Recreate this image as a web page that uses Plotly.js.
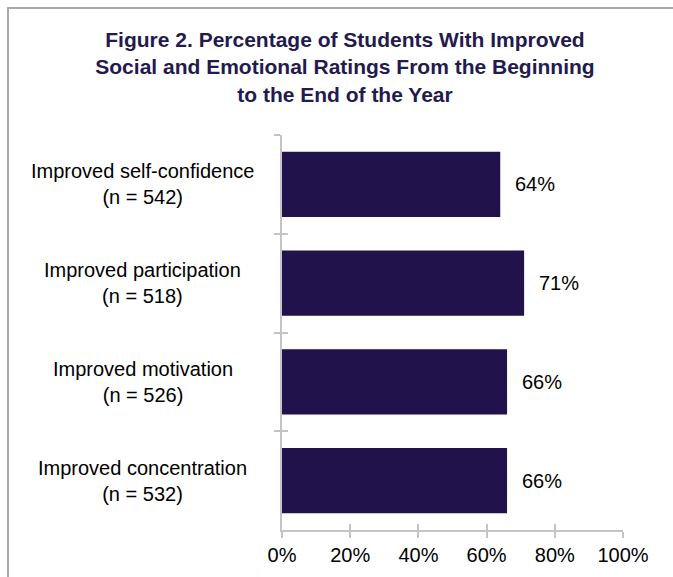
<!DOCTYPE html>
<html>
<head>
<meta charset="utf-8">
<script src="https://cdn.plot.ly/plotly-3.0.1.min.js"></script>
<style>
  html, body { margin: 0; padding: 0; background: #fff; overflow: hidden; }
  #wrap { position: relative; width: 673px; height: 577px; overflow: hidden; }
  #chart { width: 673px; height: 577px; }
  #frame { position: absolute; left: 7px; top: 7px; width: 680px; height: 590px;
           border-left: 2px solid #aaaaaa; border-top: 2px solid #aaaaaa; pointer-events: none; }
</style>
</head>
<body>
<div id="wrap">
  <div id="chart"></div>
  <div id="frame"></div>
</div>
<script>
const categories = ["Improved self-confidence", "Improved participation", "Improved motivation", "Improved concentration"];
const sampleSizes = ["n = 542", "n = 518", "n = 526", "n = 532"];
const values = [64, 71, 66, 66];
const xTicks = [0, 20, 40, 60, 80, 100];
const xTickLabels = ["0%", "20%", "40%", "60%", "80%", "100%"];
const titleText = "Figure 2. Percentage of Students With Improved<br>Social and Emotional Ratings From the Beginning<br>to the End of the Year";

const FONT = "Liberation Sans, Arial, sans-serif";
const BAR = "#22124b";
const AXIS = "#c4c4c4";

const traces = [
  {
    type: "bar", orientation: "h",
    x: values, y: categories,
    width: 0.66,
    marker: { color: BAR, line: { width: 0 } },
    hoverinfo: "skip", showlegend: false
  },
  {
    type: "scatter", mode: "markers",
    x: [0], y: [categories[0]],
    xaxis: "x2", yaxis: "y2",
    marker: { opacity: 0 }, hoverinfo: "skip", showlegend: false
  }
];

const annotations = [];
categories.forEach((c, i) => {
  annotations.push({
    xref: "paper", yref: "y", x: -0.408, y: c,
    text: c + "<br>(" + sampleSizes[i] + ")",
    showarrow: false, xanchor: "center", yanchor: "middle", align: "center",
    font: { family: FONT, size: 20, color: "#000" }
  });
  annotations.push({
    xref: "x", yref: "y", x: values[i], y: c,
    text: values[i] + "%",
    showarrow: false, xanchor: "left", yanchor: "middle", xshift: 13,
    font: { family: FONT, size: 20, color: "#000" }
  });
});

const commonX = { range: [0, 100], tickvals: xTicks, zeroline: false, showgrid: false, fixedrange: true };
const commonY = { type: "category", categoryorder: "array", categoryarray: categories,
                  range: [3.5, -0.5], zeroline: false, showgrid: false, fixedrange: true };

const layout = {
  width: 673, height: 577,
  margin: { l: 282, r: 50, t: 135, b: 47, pad: 0 },
  paper_bgcolor: "rgba(0,0,0,0)", plot_bgcolor: "rgba(0,0,0,0)",
  showlegend: false,
  title: {
    text: titleText,
    x: 0.5126, xanchor: "center", xref: "container",
    y: 1 - 47 / 577, yanchor: "middle", yref: "container",
    font: { family: FONT, size: 21, color: "#231a4e", weight: "bold" }
  },
  xaxis: Object.assign({}, commonX, {
    ticktext: xTickLabels, tickmode: "array",
    showline: true, linecolor: AXIS, linewidth: 2,
    ticks: "outside", ticklen: 6, tickwidth: 2, tickcolor: AXIS,
    tickfont: { family: FONT, size: 20, color: "#000" },
    anchor: "y"
  }),
  yaxis: Object.assign({}, commonY, {
    showticklabels: false,
    showline: true, linecolor: AXIS, linewidth: 2,
    ticks: "outside", tickson: "boundaries", ticklen: 6, tickwidth: 2, tickcolor: AXIS,
    anchor: "x"
  }),
  xaxis2: Object.assign({}, commonX, {
    overlaying: "x", anchor: "y", side: "bottom",
    tickmode: "array", showticklabels: false, showline: false,
    ticks: "inside", ticklen: 6, tickwidth: 2, tickcolor: AXIS
  }),
  yaxis2: Object.assign({}, commonY, {
    overlaying: "y", anchor: "x", side: "left",
    showticklabels: false, showline: false,
    ticks: "inside", tickson: "boundaries", ticklen: 6, tickwidth: 2, tickcolor: AXIS
  }),
  annotations: annotations
};

Plotly.newPlot("chart", traces, layout, { displayModeBar: false, staticPlot: true });
</script>
</body>
</html>
